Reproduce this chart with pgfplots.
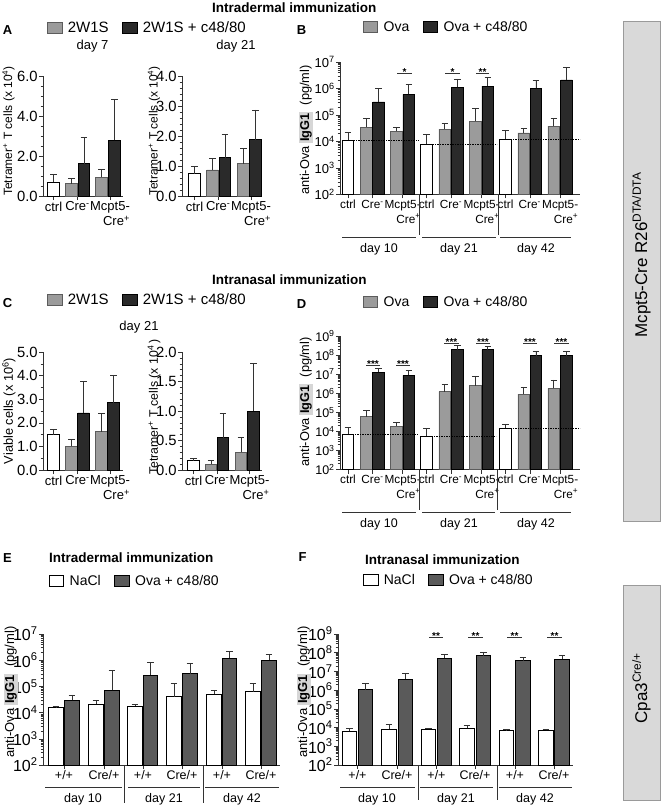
\documentclass[border=0pt]{standalone}
\usepackage{pgfplots}
\pgfplotsset{compat=1.18}
\usepackage{fontspec}
\setmainfont{Liberation Sans}
\setsansfont{Liberation Sans}
\definecolor{cG}{HTML}{9B9B9B}
\definecolor{cGe}{HTML}{5C5C5C}
\definecolor{cK}{HTML}{2A2A2A}
\definecolor{cD}{HTML}{5A5A5A}
\definecolor{boxfill}{HTML}{D9D9D9}
\definecolor{boxedge}{HTML}{9A9A9A}
\definecolor{igg}{HTML}{D6D6D6}
\definecolor{ax}{HTML}{333333}
\newcommand{\fsz}[2]{\fontsize{#1}{#2}\selectfont}
\newcommand{\xa}{\fontsize{13}{15}\selectfont}
\newcommand{\xb}{\fontsize{11.8}{14}\selectfont}
\newcommand{\xe}{\fontsize{12.5}{14}\selectfont}
\newcommand{\lf}{\fontsize{15}{16}\selectfont}
\newcommand{\lfb}{\fontsize{14}{15}\selectfont}
\newcommand{\sgn}[4]{\draw[line width=0.6pt,ax] (#1,-#3)--(#2,-#3);
  \node[font=\fsz{10}{10}\bfseries, anchor=base, inner sep=0pt] at ({(#1+#2)/2},{-#3-2.5}) {#4};}
\pgfplotsset{
  table/et/.style={x=x,y=y,y error plus expr=\thisrow{e}-\thisrow{y},row sep=\\},
  sqleg/.style={legend image code/.code={\draw[##1,/tikz/.cd,yshift=-5.5pt] (0pt,0pt) rectangle (14.5pt,11pt);}},
  gp/.style={
    scale only axis, anchor=south west,
    axis x line*=bottom, axis y line*=left,
    axis line style={line width=0.75pt, ax, -},
    every tick/.style={ax, line width=0.6pt},
    tick align=outside,
    major tick length=4pt, minor tick length=2.3pt,
    clip=false, enlargelimits=false,
    yticklabel style={font=\fsz{14.8}{16}, inner sep=1.2pt},
    xticklabel style={font=\xa, align=right, inner sep=1.5pt},
    legend style={draw=none, fill=none, legend columns=2, anchor=west,
      font=\lf, inner sep=0pt, outer sep=0pt,
      /tikz/every odd column/.append style={column sep=5pt},
      /tikz/every even column/.append style={column sep=13pt},
      nodes={inner sep=0.5pt}},
    error bars/y dir=plus, error bars/y explicit,
    error bars/error bar style={line width=0.7pt, ax},
    error bars/error mark options={rotate=90, line width=0.7pt, ax, mark size=3.3pt},
  },
  lin/.style={scaled y ticks=false, yticklabel style={/pgf/number format/.cd, fixed, fixed zerofill, precision=1, assume math mode=true}},
  wbar/.style={ybar, bar shift=0pt, fill=white, draw=black, line width=0.75pt, sqleg},
  gbar/.style={ybar, bar shift=0pt, fill=cG, draw=cGe, line width=0.75pt, sqleg},
  kbar/.style={ybar, bar shift=0pt, fill=cK, draw=black, line width=0.75pt, sqleg},
  dbar/.style={ybar, bar shift=0pt, fill=cD, draw=black, line width=0.75pt, sqleg},
  ctl/.style={black, line width=0.5pt, dash pattern=on 2pt off 1.2pt on 0.6pt off 1.2pt, mark=none, forget plot, error bars/y dir=none},
  mcl/.style={xticklabels={{\xa ctrl},{\xa Cre\textsuperscript{-}},{\xa Mcpt5-\\\xa Cre\textsuperscript{+}}}},
  mcb/.style={xticklabels={{\xb ctrl},{\xb Cre\textsuperscript{-}},{\xb Mcpt5-\\\xb Cre\textsuperscript{+}},{\xb ctrl},{\xb Cre\textsuperscript{-}},{\xb Mcpt5-\\\xb Cre\textsuperscript{+}},{\xb ctrl},{\xb Cre\textsuperscript{-}},{\xb Mcpt5-\\\xb Cre\textsuperscript{+}}}},
  mce/.style={xticklabels={{\xe +/+},{\xe Cre/+},{\xe +/+},{\xe Cre/+},{\xe +/+},{\xe Cre/+}}},
}
\begin{document}
\begin{tikzpicture}[x=1pt,y=1pt]
\useasboundingbox (0,0) rectangle (661,-808);

% ---------------- A left
\begin{axis}[gp, lin, at={(43pt,-196pt)}, width=80pt, height=120pt,
  xmin=43, xmax=123, ymin=0, ymax=6, ytick={0,2,4,6}, minor y tick num=3,
  xtick={53.5,77.5,110}, mcl, legend style={at={(0.05,1.404)}}]
\addplot[wbar, bar width=11.5, forget plot] table[et] {x y e\\ 53.5 0.70 1.07\\};
\addplot[gbar, bar width=11.5] table[et] {x y e\\ 71.5 0.62 0.87\\ 101.5 0.95 1.33\\};
\addlegendentry{\lf 2W1S}
\addplot[kbar, bar width=11.5] table[et] {x y e\\ 84 1.62 2.92\\ 114.5 2.78 4.82\\};
\addlegendentry{\lf 2W1S + c48/80}
\end{axis}
% ---------------- A right
\begin{axis}[gp, lin, at={(182pt,-196pt)}, width=80pt, height=120pt,
  xmin=182, xmax=262, ymin=0, ymax=4, ytick={0,1,2,3,4}, minor y tick num=4,
  xtick={194.5,218.25,251}, mcl]
\addplot[wbar, bar width=11.5] table[et] {x y e\\ 194.5 0.75 1.00\\};
\addplot[gbar, bar width=11.5] table[et] {x y e\\ 212.5 0.87 1.24\\ 243.5 1.08 1.58\\};
\addplot[kbar, bar width=11.5] table[et] {x y e\\ 225 1.28 2.05\\ 255.5 1.88 2.87\\};
\end{axis}
% ---------------- B
\begin{axis}[gp, ymode=log, log origin y=infty, ymin=1e2, ymax=1e7,
  ytick={1e2,1e3,1e4,1e5,1e6,1e7},
  minor ytick={2e2,3e2,4e2,5e2,6e2,7e2,8e2,9e2,2e3,3e3,4e3,5e3,6e3,7e3,8e3,9e3,2e4,3e4,4e4,5e4,6e4,7e4,8e4,9e4,2e5,3e5,4e5,5e5,6e5,7e5,8e5,9e5,2e6,3e6,4e6,5e6,6e6,7e6,8e6,9e6},
  yticklabels={10\textsuperscript{2},10\textsuperscript{3},10\textsuperscript{4},10\textsuperscript{5},10\textsuperscript{6},10\textsuperscript{7}},
  yticklabel style={font=\fsz{13}{14}},
  at={(340pt,-194.5pt)}, width=240pt, height=132.5pt,
  xmin=340, xmax=580,
  xtick={348,372.6,402.65,426.7,451,481.55,505.5,529.85,560.2}, mcb,
  legend style={at={(0.0958,1.264)}}]
\addplot[wbar, bar width=11.7, forget plot] table[et] {x y e\\ 348 1.1e4 2.2e4\\ 426.7 7.9e3 1.9e4\\ 505.5 1.2e4 2.6e4\\};
\addplot[gbar, bar width=11.7] table[et] {x y e\\ 366.5 3.5e4 7.4e4\\ 396.5 2.4e4 3.5e4\\ 444.8 2.9e4 4.8e4\\ 475.3 5.8e4 1.74e5\\ 523.8 2.1e4 3.1e4\\ 553.8 3.8e4 7.2e4\\};
\addlegendentry{\lfb Ova}
\addplot[kbar, bar width=11.7] table[et] {x y e\\ 378.7 3.1e5 1.0e6\\ 408.8 6.0e5 1.45e6\\ 457.2 1.1e6 2.3e6\\ 487.8 1.23e6 2.6e6\\ 535.9 1.0e6 2.0e6\\ 566.6 2.1e6 6.2e6\\};
\addlegendentry{\lfb Ova + c48/80}
\addplot[ctl] coordinates {(343,1.1e4) (419,1.1e4)};
\addplot[ctl] coordinates {(422,7.9e3) (497,7.9e3)};
\addplot[ctl] coordinates {(500,1.2e4) (580,1.2e4)};
\end{axis}
% ---------------- C left
\begin{axis}[gp, lin, at={(43pt,-470pt)}, width=80pt, height=118pt,
  xmin=43, xmax=123, ymin=0, ymax=5, ytick={0,1,2,3,4,5}, minor y tick num=1,
  xtick={53.5,77.5,110}, mcl, legend style={at={(0.05,1.441)}}]
\addplot[wbar, bar width=11.5, forget plot] table[et] {x y e\\ 53.5 1.50 1.71\\};
\addplot[gbar, bar width=11.5] table[et] {x y e\\ 71.5 1.00 1.28\\ 101.5 1.63 2.38\\};
\addlegendentry{\lf 2W1S}
\addplot[kbar, bar width=11.5] table[et] {x y e\\ 83.5 2.42 3.75\\ 113.5 2.85 4.03\\};
\addlegendentry{\lf 2W1S + c48/80}
\end{axis}
% ---------------- C right
\begin{axis}[gp, lin, at={(182pt,-470pt)}, width=80pt, height=118pt,
  xmin=182, xmax=262, ymin=0, ymax=2, ytick={0,0.5,1,1.5,2}, minor y tick num=4,
  xtick={193.5,217,249.5}, mcl]
\addplot[wbar, bar width=11.5] table[et] {x y e\\ 193.5 0.16 0.19\\};
\addplot[gbar, bar width=11.5] table[et] {x y e\\ 211 0.10 0.16\\ 241 0.30 0.55\\};
\addplot[kbar, bar width=11.5] table[et] {x y e\\ 223 0.55 0.96\\ 253.5 1.00 1.80\\};
\end{axis}
% ---------------- D
\begin{axis}[gp, ymode=log, log origin y=infty, ymin=1e2, ymax=1e9,
  ytick={1e2,1e3,1e4,1e5,1e6,1e7,1e8,1e9},
  minor ytick={2e2,3e2,4e2,5e2,6e2,7e2,8e2,9e2,2e3,3e3,4e3,5e3,6e3,7e3,8e3,9e3,2e4,3e4,4e4,5e4,6e4,7e4,8e4,9e4,2e5,3e5,4e5,5e5,6e5,7e5,8e5,9e5,2e6,3e6,4e6,5e6,6e6,7e6,8e6,9e6,2e7,3e7,4e7,5e7,6e7,7e7,8e7,9e7,2e8,3e8,4e8,5e8,6e8,7e8,8e8,9e8},
  yticklabels={10\textsuperscript{2},10\textsuperscript{3},10\textsuperscript{4},10\textsuperscript{5},10\textsuperscript{6},10\textsuperscript{7},10\textsuperscript{8},10\textsuperscript{9}},
  yticklabel style={font=\fsz{12.5}{13}},
  at={(340pt,-469.5pt)}, width=240pt, height=133.5pt,
  xmin=340, xmax=580,
  xtick={348,372.6,402.65,426.7,451,481.55,505.5,529.85,560.2}, mcb,
  legend style={at={(0.0958,1.255)}}]
\addplot[wbar, bar width=11.7, forget plot] table[et] {x y e\\ 348 6.9e3 1.55e4\\ 426.7 5.6e3 1.4e4\\ 505.5 1.5e4 2.45e4\\};
\addplot[gbar, bar width=11.7] table[et] {x y e\\ 366.5 5.9e4 1.3e5\\ 396.5 1.9e4 3.0e4\\ 444.8 1.23e6 2.75e6\\ 475.3 2.45e6 8.1e6\\ 523.8 9.1e5 2.1e6\\ 553.8 1.8e6 5.0e6\\};
\addlegendentry{\lfb Ova}
\addplot[kbar, bar width=11.7] table[et] {x y e\\ 378.7 1.23e7 2.1e7\\ 408.8 8.5e6 1.5e7\\ 457.2 1.9e8 3.1e8\\ 487.8 1.9e8 2.9e8\\ 535.9 9.1e7 1.5e8\\ 566.6 9.1e7 1.5e8\\};
\addlegendentry{\lfb Ova + c48/80}
\addplot[ctl] coordinates {(342,6.9e3) (418,6.9e3)};
\addplot[ctl] coordinates {(421,5.6e3) (496,5.6e3)};
\addplot[ctl] coordinates {(500,1.5e4) (580,1.5e4)};
\end{axis}
% ---------------- E
\begin{axis}[gp, ymode=log, log origin y=infty, ymin=1e2, ymax=1e7,
  ytick={1e2,1e3,1e4,1e5,1e6,1e7},
  minor ytick={2e2,3e2,4e2,5e2,6e2,7e2,8e2,9e2,2e3,3e3,4e3,5e3,6e3,7e3,8e3,9e3,2e4,3e4,4e4,5e4,6e4,7e4,8e4,9e4,2e5,3e5,4e5,5e5,6e5,7e5,8e5,9e5,2e6,3e6,4e6,5e6,6e6,7e6,8e6,9e6},
  yticklabels={10\textsuperscript{2},10\textsuperscript{3},10\textsuperscript{4},10\textsuperscript{5},10\textsuperscript{6},10\textsuperscript{7}},
  yticklabel style={font=\fsz{16}{17}},
  at={(43pt,-765pt)}, width=237pt, height=131pt,
  xmin=43, xmax=280,
  xtick={64,104,143,182,222,261}, mce,
  legend style={at={(0.0253,1.405)}}]
\addplot[wbar, bar width=14.3] table[et] {x y e\\ 56 1.55e4 1.8e4\\ 96 2.1e4 2.9e4\\ 135 1.75e4 2.1e4\\ 174 4.1e4 1.3e5\\ 214 5.0e4 7.1e4\\ 253 6.3e4 1.3e5\\};
\addlegendentry{\lfb NaCl}
\addplot[dbar, bar width=14.3] table[et] {x y e\\ 72 2.95e4 4.7e4\\ 112 7.1e4 4.2e5\\ 150.5 2.7e5 8.1e5\\ 190 3.1e5 7.6e5\\ 229.5 1.17e6 2.1e6\\ 269 1.0e6 1.7e6\\};
\addlegendentry{\lfb Ova + c48/80}
\end{axis}
% ---------------- F
\begin{axis}[gp, ymode=log, log origin y=infty, ymin=1e2, ymax=1e9,
  ytick={1e2,1e3,1e4,1e5,1e6,1e7,1e8,1e9},
  minor ytick={2e2,3e2,4e2,5e2,6e2,7e2,8e2,9e2,2e3,3e3,4e3,5e3,6e3,7e3,8e3,9e3,2e4,3e4,4e4,5e4,6e4,7e4,8e4,9e4,2e5,3e5,4e5,5e5,6e5,7e5,8e5,9e5,2e6,3e6,4e6,5e6,6e6,7e6,8e6,9e6,2e7,3e7,4e7,5e7,6e7,7e7,8e7,9e7,2e8,3e8,4e8,5e8,6e8,7e8,8e8,9e8},
  yticklabels={10\textsuperscript{2},10\textsuperscript{3},10\textsuperscript{4},10\textsuperscript{5},10\textsuperscript{6},10\textsuperscript{7},10\textsuperscript{8},10\textsuperscript{9}},
  yticklabel style={font=\fsz{16}{17}},
  at={(338pt,-765pt)}, width=235pt, height=131pt,
  xmin=338, xmax=573,
  xtick={357.5,397,436.5,475,515,554}, mce,
  legend style={at={(0.1064,1.412)}}]
\addplot[wbar, bar width=14.5] table[et] {x y e\\ 349.5 6.6e3 9.1e3\\ 389 8.1e3 1.4e4\\ 428.5 8.1e3 9.1e3\\ 467 9.1e3 1.26e4\\ 506.5 6.9e3 8.1e3\\ 546 7.2e3 8.1e3\\};
\addlegendentry{\lfb NaCl}
\addplot[dbar, bar width=14.5] table[et] {x y e\\ 365.5 1.05e6 2.4e6\\ 405.5 3.9e6 8.1e6\\ 444.5 5.1e7 7.8e7\\ 483.5 6.9e7 1.1e8\\ 523 3.7e7 5.9e7\\ 562 4.6e7 7.2e7\\};
\addlegendentry{\lfb Ova + c48/80}
\end{axis}

% ---------------- titles, panel letters
\node[anchor=west, font=\fsz{13.5}{15}\bfseries, inner sep=0pt] at (212,-7.5) {Intradermal immunization};
\node[anchor=west, font=\fsz{13.5}{15}\bfseries, inner sep=0pt] at (212,-280) {Intranasal immunization};
\node[anchor=west, font=\fsz{13.5}{15}\bfseries, inner sep=0pt] at (49,-558) {Intradermal immunization};
\node[anchor=west, font=\fsz{13.5}{15}\bfseries, inner sep=0pt] at (365,-560) {Intranasal immunization};
\foreach \l/\x/\y in {A/7.5/30, B/301.5/30, C/7.5/303, D/301.5/304, E/7.5/558, F/302.5/557}
  \node[font=\fsz{13}{14}\bfseries, inner sep=0pt] at (\x,-\y) {\l};
\node[font=\fsz{13}{14}] at (92.5,-46) {day 7};
\node[font=\fsz{13}{14}] at (236,-46) {day 21};
\node[font=\fsz{13}{14}] at (139,-327) {day 21};

% ---------------- y labels
\node[rotate=90, font=\fsz{12}{14}] at (8.5,-131) {Tetramer\textsuperscript{+} T cells (x 10\textsuperscript{4})};
\node[rotate=90, font=\fsz{12}{14}] at (154,-131) {Tetramer\textsuperscript{+} T cells (x 10\textsuperscript{4})};
\node[rotate=90, font=\fsz{12.8}{14}] at (9,-411) {Viable cells (x 10\textsuperscript{6})};
\node[rotate=90, font=\fsz{12.3}{14}] at (154,-407) {Tetramer\textsuperscript{+} T cells (x 10\textsuperscript{4}\,)};
\setlength{\fboxsep}{1pt}
\node[rotate=90, font=\fsz{12.8}{14}] at (306,-130) {anti-Ova \colorbox{igg}{\textbf{IgG1}}\ \ (pg/ml)};
\node[rotate=90, font=\fsz{12.8}{14}] at (306,-402) {anti-Ova \colorbox{igg}{\textbf{IgG1}}\ \ (pg/ml)};
\node[rotate=90, font=\fsz{13}{14}] at (11,-692) {anti-Ova \colorbox{igg}{\textbf{IgG1}}\ \ (pg/ml)};
\node[rotate=90, font=\fsz{13}{14}] at (304,-692) {anti-Ova \colorbox{igg}{\textbf{IgG1}}\ \ (pg/ml)};

% ---------------- group separators and labels
\begin{scope}[line width=0.6pt, draw=ax]
\draw (419.5,-195)--(419.5,-235); \draw (498,-195)--(498,-235);
\draw (342,-237)--(416,-237); \draw (422,-237)--(496,-237); \draw (500,-237)--(571,-237);
\draw (419,-470)--(419,-510); \draw (497,-470)--(497,-510);
\draw (342,-512)--(416,-512); \draw (422,-512)--(495,-512); \draw (500,-512)--(571,-512);
\draw (124,-765)--(124,-803); \draw (203,-765)--(203,-803);
\draw (45,-787)--(122,-787); \draw (128,-787)--(200,-787); \draw (205,-787)--(279,-787);
\draw (418,-765)--(418,-800); \draw (497,-765)--(497,-800);
\draw (340,-787)--(415,-787); \draw (420,-787)--(493,-787); \draw (499,-787)--(572,-787);
\end{scope}
\foreach \x/\t in {379/day 10, 459/day 21, 536/day 42}
  {\node[font=\fsz{12.5}{14}] at (\x,-249) {\t}; \node[font=\fsz{12.5}{14}] at (\x,-524) {\t};}
\foreach \x/\t in {83/day 10, 164/day 21, 242/day 42}
  \node[font=\fsz{12.5}{14}] at (\x,-799) {\t};
\foreach \x/\t in {377/day 10, 456/day 21, 535/day 42}
  \node[font=\fsz{12.5}{14}] at (\x,-799) {\t};

% ---------------- significance
\sgn{397}{412}{73}{*}
\sgn{445}{460}{73}{*}
\sgn{476}{489}{73}{**}
\sgn{366}{380}{365}{***}
\sgn{396}{410}{365}{***}
\sgn{444}{459}{343}{***}
\sgn{476}{490}{343}{***}
\sgn{523}{537}{343}{***}
\sgn{554}{569}{343}{***}
\sgn{429}{443}{637}{**}
\sgn{468}{483}{637}{**}
\sgn{507}{522}{637}{**}
\sgn{547}{562}{637}{**}

% ---------------- right boxes
\draw[fill=boxfill, draw=boxedge, line width=0.6pt] (623,-21) rectangle (660,-521);
\node[rotate=90, font=\fsz{17}{19}] at (641.5,-255) {Mcpt5-Cre R26\textsuperscript{DTA/DTA}};
\draw[fill=boxfill, draw=boxedge, line width=0.6pt] (623,-585) rectangle (660,-800);
\node[rotate=90, font=\fsz{17}{19}] at (641.5,-688) {Cpa3\textsuperscript{Cre/+}};
\end{tikzpicture}
\end{document}
